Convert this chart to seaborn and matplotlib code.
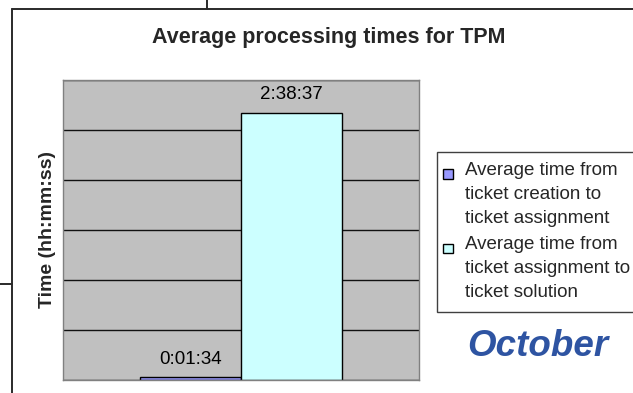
import numpy as np
import pandas as pd
import matplotlib
matplotlib.use("Agg")
import matplotlib.pyplot as plt
from matplotlib.patches import Rectangle, Patch
from matplotlib.lines import Line2D
from matplotlib.legend_handler import HandlerPatch
import seaborn as sns

# Data
month = "October"
measures = [
    "Average time from\nticket creation to\nticket assignment",
    "Average time from\nticket assignment to\nticket solution",
]
durations = ["0:01:34", "2:38:37"]
bar_colors = ["#9999FF", "#CCFFFF"]


def to_seconds(text):
    h, m, s = (int(p) for p in text.split(":"))
    return h * 3600 + m * 60 + s


seconds = [to_seconds(d) for d in durations]
df = pd.DataFrame({"period": [month] * len(measures),
                   "measure": measures,
                   "seconds": seconds})

sns.set_theme(style="white")
plt.rcParams["font.family"] = ["Liberation Sans", "DejaVu Sans"]

W, H = 633, 393
fig = plt.figure(figsize=(W / 100, H / 100), dpi=100)
fig.patch.set_facecolor("white")

ax = fig.add_axes([63 / W, 1 - 380 / H, 356 / W, 300 / H])
sns.barplot(data=df, x="period", y="seconds", hue="measure",
            hue_order=measures, palette=bar_colors, saturation=1,
            width=0.567, edgecolor="black", linewidth=1.0,
            errorbar=None, legend=False, ax=ax)

# six equal gridline bands on a grey plot area
y_max = to_seconds("2:58:00")
ax.set_ylim(0, y_max)
ax.set_yticks(np.linspace(0, y_max, 7))
ax.set_facecolor("#C0C0C0")
ax.set_axisbelow(True)
ax.yaxis.grid(True, color="#111111", linewidth=1.0)
ax.xaxis.grid(False)
ax.tick_params(left=False, labelleft=False, bottom=False, labelbottom=False)
for sp in ax.spines.values():
    sp.set_color("#808080")
    sp.set_linewidth(1.0)
ax.set_xlabel("")
ax.set_ylabel("Time (hh:mm:ss)", fontsize=14, fontweight="bold", labelpad=5)

# value labels above the bars
for container, lbl in zip(ax.containers, durations):
    ax.bar_label(container, labels=[lbl], padding=7, fontsize=13.5,
                 color="black")

# legend with the swatch beside the first line of each entry
LINE_PITCH = 16.9


def top_square(legend, orig_handle, xdescent, ydescent, width, height,
               fontsize):
    side = 0.5 * fontsize
    return Rectangle((-xdescent - 3.0, -ydescent + LINE_PITCH - 2.0),
                     side, side)


handles = [Patch(facecolor=c, edgecolor="black", linewidth=1.0)
           for c in bar_colors]
leg = fig.legend(handles, measures, loc="upper left",
                 bbox_to_anchor=(437 / W, 1 - 152 / H),
                 bbox_transform=fig.transFigure, fontsize=13.5,
                 frameon=True, fancybox=False, edgecolor="#404040",
                 framealpha=1, borderpad=0.55, handlelength=0.45,
                 handleheight=0.45, handletextpad=0.49, labelspacing=0.5,
                 borderaxespad=0,
                 handler_map={Patch: HandlerPatch(patch_func=top_square)})
for t in leg.get_texts():
    t.set_linespacing(1.53)
leg.get_frame().set_linewidth(1.0)

# title and month caption
fig.text(329 / W, 1 - 38 / H, "Average processing times for TPM",
         ha="center", va="center", fontsize=15.5, fontweight="bold")
fig.text(538 / W, 1 - 346 / H, month, ha="center", va="center",
         fontsize=26.5, fontweight="bold", fontstyle="italic", color="#2E54A2")

# surrounding frame lines
frame_kw = dict(transform=fig.transFigure, color="#2A2A2A", linewidth=1.4)
fig.add_artist(Line2D([12 / W, 1], [1 - 9 / H, 1 - 9 / H], **frame_kw))
fig.add_artist(Line2D([12 / W, 12 / W], [1 - 9 / H, 0], **frame_kw))
fig.add_artist(Line2D([207 / W, 207 / W], [1, 1 - 9 / H], **frame_kw))
fig.add_artist(Line2D([0, 12 / W], [1 - 284 / H, 1 - 284 / H], **frame_kw))

fig.savefig("out.png", dpi=100)
